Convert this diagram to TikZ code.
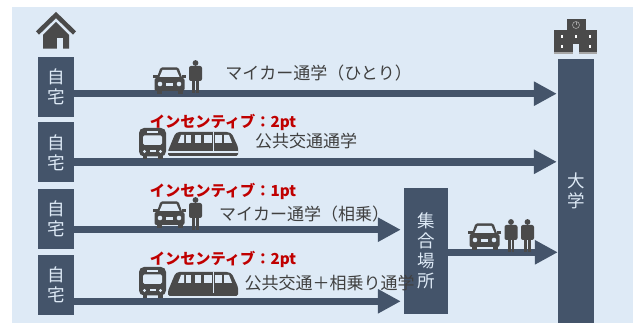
\documentclass[tikz,border=0pt]{standalone}
\usepackage{fontspec}
\usetikzlibrary{positioning,arrows.meta}
\newfontfamily\jp{Noto Sans CJK JP}
\definecolor{bgblue}{HTML}{DEEAF6}
\definecolor{boxblue}{HTML}{44546A}
\definecolor{icongray}{HTML}{4A4A4A}
\definecolor{textgray}{HTML}{404040}
\definecolor{bonusred}{HTML}{C00000}
\tikzset{
    placebox/.style={fill=boxblue, text=bgblue, inner sep=0pt, align=center, font=\jp\fontsize{17.5}{20}\selectfont},
    homebox/.style={placebox, minimum width=36pt, minimum height=60pt},
    flow/.style={draw=boxblue, line width=7.5pt, shorten >=1pt, -{Triangle[length=23pt,width=23pt,fill=boxblue]}},
    routetext/.style={text=textgray, inner sep=0pt, font=\jp\fontsize{17}{20}\selectfont},
    bonustext/.style={text=bonusred, inner sep=0pt, font=\jp\bfseries\fontsize{15.2}{18}\selectfont},
    pics/car/.style={code={
        \fill[icongray] (-13,0) rectangle (-8,-5);
        \fill[icongray] (8,0) rectangle (13,-5);
        \fill[icongray, rounded corners=2pt] (-15,-3) rectangle (15,-16);
        \fill[icongray] (-16.5,-16) rectangle (-12,-19);
        \fill[icongray] (12,-16) rectangle (16.5,-19);
        \fill[icongray, rounded corners=1.5pt] (-13,-15) -- (-9,-26.5) -- (9,-26.5) -- (13,-15) -- cycle;
        \fill[bgblue] (-10,-17) -- (-7,-24) -- (7,-24) -- (10,-17) -- cycle;
        \fill[bgblue] (-9.5,-10) circle (2.3);
        \fill[bgblue] (9.5,-10) circle (2.3);
        \fill[bgblue] (-3.5,-7.5) rectangle (3.5,-11);
    }},
    pics/person/.style={code={
        \fill[icongray] (0,-30) circle (2.9);
        \fill[icongray, rounded corners=2pt] (-6.5,-12) rectangle (6.5,-27);
        \fill[icongray] (-3.4,0) rectangle (-0.5,-13);
        \fill[icongray] (0.5,0) rectangle (3.4,-13);
    }},
    pics/bus/.style={code={
        \fill[icongray] (-10,0) rectangle (-5.5,-4);
        \fill[icongray] (5.5,0) rectangle (10,-4);
        \fill[icongray, rounded corners=5pt] (-13.5,-2.5) rectangle (13.5,-31);
        \fill[bgblue, rounded corners=1.5pt] (-9.5,-14) rectangle (9.5,-23.5);
        \fill[bgblue] (-5.5,-26) rectangle (5.5,-27.5);
        \fill[bgblue] (-8,-7.5) circle (1.7);
        \fill[bgblue] (8,-7.5) circle (1.7);
        \fill[bgblue] (-3,-6.5) rectangle (3,-8.5);
    }},
    pics/train/.style={code={
        \fill[icongray, rounded corners=1.5pt] (0,0) -- (0,-5) -- (7,-22) -- (10,-24) -- (60,-24) -- (64,-22) -- (70,-9) -- (70,0) -- cycle;
        \fill[bgblue] (10,-13) -- (16,-13) -- (16,-21) -- (13,-21) -- cycle;
        \fill[bgblue] (18,-13) rectangle (23,-21);
        \fill[bgblue] (27,-13) rectangle (33,-21);
        \fill[bgblue] (36,-13) rectangle (44,-21);
        \fill[bgblue] (47,-13) rectangle (54,-21);
        \fill[bgblue] (56,-13) -- (64,-13) -- (61,-21) -- (56,-21) -- cycle;
        \draw[bgblue, line width=0.4pt] (45.5,-3) -- (45.5,-24);
    }},
}

\begin{document}
\begin{tikzpicture}[x=1pt, y=-1pt]
    \useasboundingbox (0,0) rectangle (633,323);
    \fill[bgblue] (12,7) rectangle (633,323);

    \node[homebox] (h1) at (56,87) {自\\宅};
    \node[homebox, below = 5pt of h1] (h2) {自\\宅};
    \node[homebox, below = 6pt of h2] (h3) {自\\宅};
    \node[homebox, below = 6pt of h3] (h4) {自\\宅};
    \node[placebox, minimum width=44pt, minimum height=126pt] (meet) at (426,251) {集\\合\\場\\所};
    \node[placebox, minimum width=36pt, minimum height=264pt] (univ) at (576,191) {大\\学};

    \coordinate (r1) at (0,93.7);
    \coordinate (r2) at (0,161.8);
    \coordinate (r3) at (0,229.7);
    \coordinate (r4) at (0,301.3);
    \coordinate (r5) at (0,252.3);

    \draw[flow] (h1.east |- r1) -- (univ.west |- r1);
    \draw[flow] (h2.east |- r2) -- (univ.west |- r2);
    \draw[flow, shorten >=3pt] (h3.east |- r3) -- (meet.west |- r3);
    \draw[flow, shorten >=3pt] (h4.east |- r4) -- (meet.west |- r4);
    \draw[flow, shorten >=0pt] (meet.east |- r5) -- (univ.west |- r5);

    % house
    \fill[icongray] (43,48.7) -- (43,35) -- (56,22) -- (69,35) -- (69,48.7) -- cycle;
    \fill[bgblue] (57,38) rectangle (63,48.7);
    \draw[icongray, line width=4.5pt] (37.5,33) -- (56,15) -- (74.5,33);

    % school
    \fill[icongray] (567,19) rectangle (586,31);
    \fill[icongray] (554,30) rectangle (597,53);
    \fill[gray!70] (554,52) rectangle (597,54);
    \fill[bgblue] (572.7,44) rectangle (579.3,54);
    \draw[gray!70, line width=0.6pt] (576,25) circle (3.5);
    \draw[gray!70, line width=0.6pt] (576,22.5) -- (576,25);
    \foreach \wx in {561.7,576,589.7} {
        \fill[white] (\wx-1,35.5) rectangle (\wx+1,38.5);
    }
    \foreach \wx in {561.7,589.7} {
        \fill[white] (\wx-1,44.8) rectangle (\wx+1,47.8);
    }

    \pic at (169.5,94) {car};
    \pic at (195.5,93) {person};
    \pic at (152.5,159) {bus};
    \pic at (168,156) {train};
    \fill[bgblue] (168,151.5) rectangle (238,153);
    \pic at (169.5,228) {car};
    \pic at (195.5,230) {person};
    \pic at (152.5,298) {bus};
    \pic at (168,296) {train};
    \pic at (484.5,250) {car};
    \pic at (511,252) {person};
    \pic at (527.5,252) {person};

    \node[routetext] (t1) at (318.5,73) {マイカー通学（ひとり）};
    \node[routetext] (t2) at (306,141) {公共交通通学};
    \node[routetext] (t3) at (304,214) {マイカー通学（相乗）};
    \node[routetext] (t4) at (329.5,283) {公共交通＋相乗り通学};

    \node[bonustext] (b2) at (223,122) {インセンティブ：2pt};
    \node[bonustext] (b3) at (223,191.5) {インセンティブ：1pt};
    \node[bonustext] (b4) at (223,259) {インセンティブ：2pt};
\end{tikzpicture}
\end{document}
